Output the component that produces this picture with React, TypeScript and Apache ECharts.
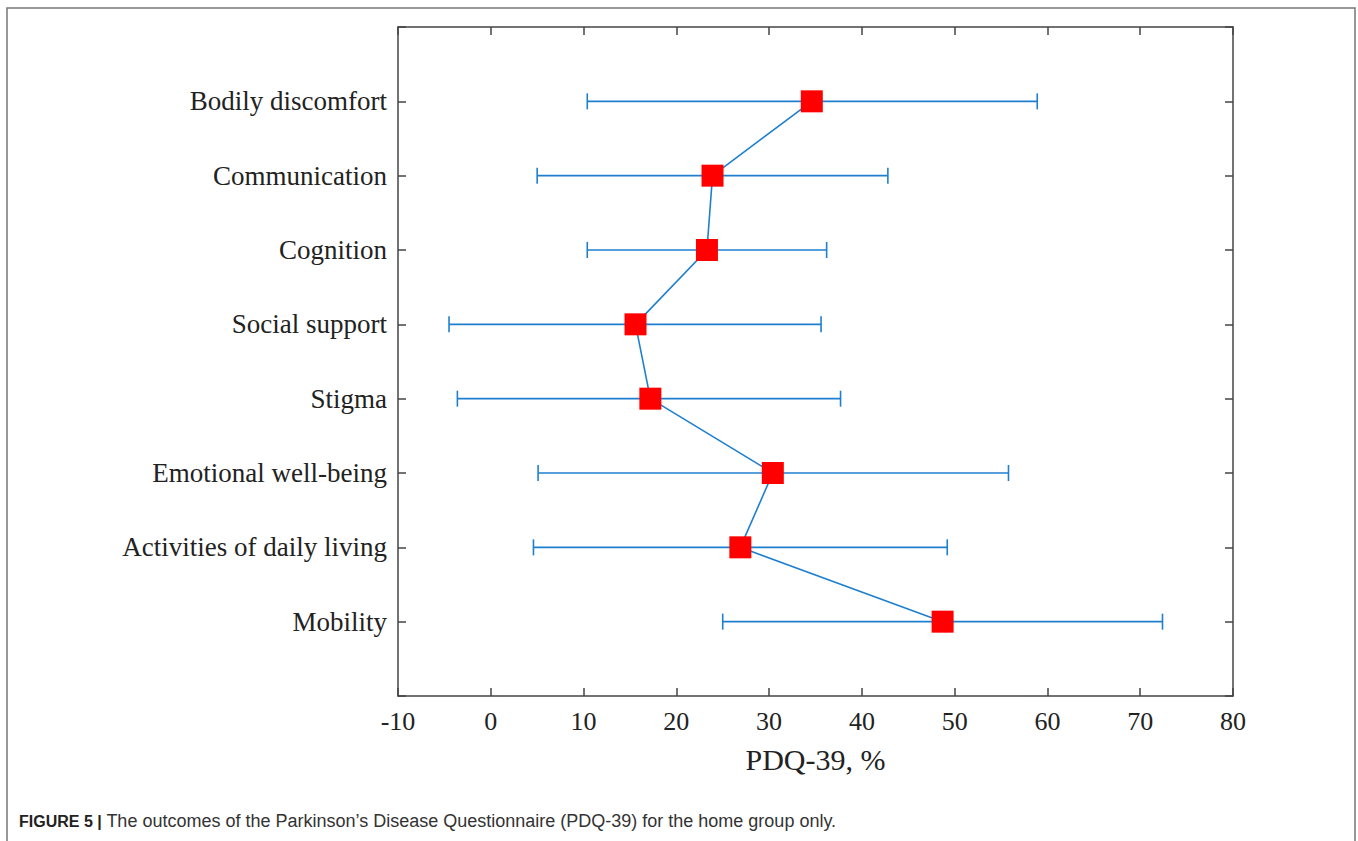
import React, { useEffect, useRef } from "react";
import * as echarts from "echarts";

const categories = [
  "Mobility",
  "Activities of daily living",
  "Emotional well-being",
  "Stigma",
  "Social support",
  "Cognition",
  "Communication",
  "Bodily discomfort",
];
const means = [48.7, 26.9, 30.4, 17.2, 15.6, 23.3, 23.9, 34.6];
const lows = [25.0, 4.6, 5.1, -3.6, -4.5, 10.4, 5.0, 10.4];
const highs = [72.4, 49.2, 55.8, 37.7, 35.6, 36.2, 42.8, 58.9];
const xTicks = [-10, 0, 10, 20, 30, 40, 50, 60, 70, 80];

const BLUE = "#1f7fcf";
const SERIF = "'Liberation Serif', 'Times New Roman', serif";
const SANS = "'Liberation Sans', Arial, sans-serif";

export default function App() {
  const ref = useRef<HTMLDivElement>(null);
  useEffect(() => {
    if (!ref.current) return;
    const chart = echarts.init(ref.current, null, { renderer: "svg" });
    const meanData = means.map((m, i) => [m, i + 1]);
    const errData = lows.map((l, i) => [l, highs[i], i + 1]);
    const labelFor = (v: number) => {
      const idx = Math.round(v) - 1;
      return idx >= 0 && idx < categories.length ? categories[idx] : "";
    };
    const lineStyle = { color: "#444", width: 1.5 };
    const yBase = {
      type: "value" as const,
      min: 0,
      max: 9,
      interval: 1,
      splitLine: { show: false },
      axisLine: { show: true, onZero: false, lineStyle },
      axisTick: { show: true, inside: true, length: 8, lineStyle },
    };
    const xBase = {
      type: "value" as const,
      min: xTicks[0],
      max: xTicks[xTicks.length - 1],
      interval: 10,
      splitLine: { show: false },
      axisLine: { show: true, onZero: false, lineStyle },
      axisTick: { show: true, inside: true, length: 8, lineStyle },
    };
    chart.setOption({
      animation: false,
      backgroundColor: "#fff",
      grid: { left: 398, right: 125, top: 27, bottom: 145, containLabel: false },
      xAxis: [
        {
          ...xBase,
          position: "bottom",
          name: "PDQ-39, %",
          nameLocation: "middle",
          nameGap: 48,
          nameTextStyle: { fontFamily: SERIF, fontSize: 30, color: "#222" },
          axisLabel: { fontFamily: SERIF, fontSize: 26, color: "#222", margin: 12 },
        },
        { ...xBase, position: "top", axisLabel: { show: false } },
      ],
      yAxis: [
        {
          ...yBase,
          position: "left",
          axisLabel: {
            fontFamily: SERIF,
            fontSize: 27,
            color: "#222",
            margin: 11,
            formatter: (v: number) => labelFor(v),
          },
        },
        { ...yBase, position: "right", axisLabel: { show: false } },
      ],
      graphic: [
        {
          type: "rect",
          shape: { x: 7, y: 8, width: 1348, height: 900 },
          style: { fill: "none", stroke: "#777", lineWidth: 1.5 },
          silent: true,
        },
        {
          type: "text",
          left: 19,
          top: 812,
          style: {
            text: "{b|FIGURE 5 |} The outcomes of the Parkinson\u2019s Disease Questionnaire (PDQ-39) for the home group only.",
            rich: {
              b: { fontFamily: SANS, fontWeight: "bold", fontSize: 16, fill: "#222" },
            },
            fontFamily: SANS,
            fontSize: 18,
            fill: "#333",
          },
        },
      ],
      series: [
        {
          type: "custom",
          xAxisIndex: 0,
          yAxisIndex: 0,
          z: 1,
          data: errData,
          renderItem: (params: any, api: any) => {
            const lo = api.coord([api.value(0), api.value(2)]);
            const hi = api.coord([api.value(1), api.value(2)]);
            const cap = 8;
            const style = { stroke: BLUE, lineWidth: 1.6 };
            return {
              type: "group",
              children: [
                { type: "line", shape: { x1: lo[0], y1: lo[1], x2: hi[0], y2: hi[1] }, style },
                { type: "line", shape: { x1: lo[0], y1: lo[1] - cap, x2: lo[0], y2: lo[1] + cap }, style },
                { type: "line", shape: { x1: hi[0], y1: hi[1] - cap, x2: hi[0], y2: hi[1] + cap }, style },
              ],
            };
          },
        },
        {
          type: "line",
          xAxisIndex: 0,
          yAxisIndex: 0,
          z: 3,
          data: meanData,
          symbol: "rect",
          symbolSize: 22,
          itemStyle: { color: "#ff0000", borderWidth: 0 },
          lineStyle: { color: BLUE, width: 1.6 },
        },
      ],
    });
    return () => chart.dispose();
  }, []);
  return (
    <div
      ref={ref}
      style={{ position: "absolute", left: 0, top: 0, width: 1358, height: 841 }}
    />
  );
}
